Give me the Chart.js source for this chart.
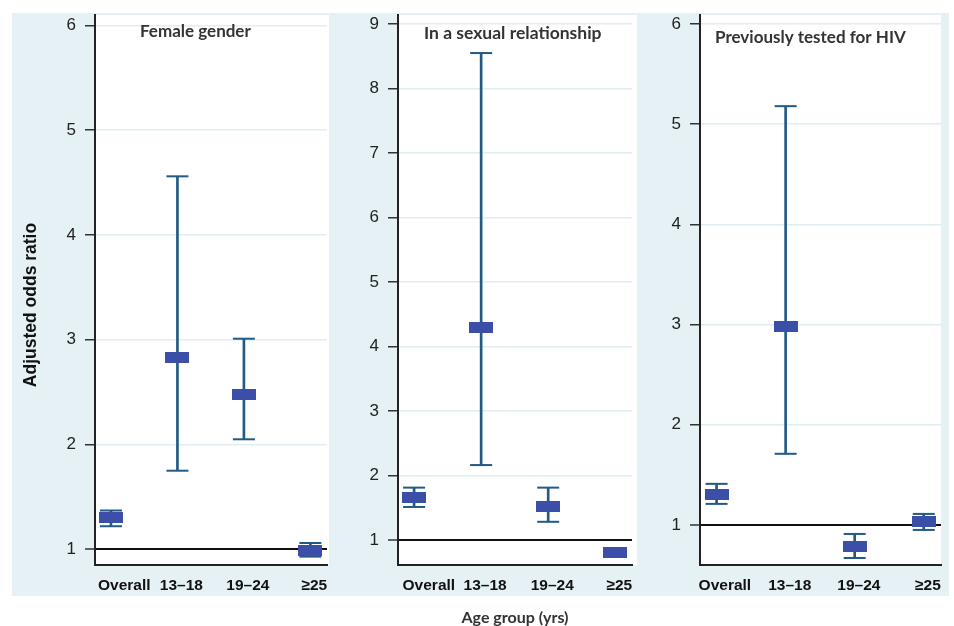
<!DOCTYPE html>
<html><head><meta charset="utf-8">
<script src="https://cdn.jsdelivr.net/npm/chart.js@4.4.0/dist/chart.umd.min.js"></script>
<style>
html,body{margin:0;padding:0;background:#fff;width:954px;height:626px;overflow:hidden;}
#bg{position:absolute;left:12px;top:13px;width:937px;height:583px;background:#e5f1f4;}
canvas{position:absolute;top:0;}
</style></head><body>
<div id="bg"></div>
<canvas id="c1" width="340" height="626" style="left:0px"></canvas>
<canvas id="c2" width="305" height="626" style="left:340px"></canvas>
<canvas id="c3" width="309" height="626" style="left:645px"></canvas>
<script>
// ---- data ----
const categories = ['Overall', '13–18', '19–24', '≥25'];
const panelTitles = ['Female gender', 'In a sexual relationship', 'Previously tested for HIV'];
const yAxisTitle = 'Adjusted odds ratio';
const xAxisTitle = 'Age group (yrs)';

const femaleOR = [1.30, 2.83, 2.48, 0.99];
const femaleLo = [1.22, 1.75, 2.05, 0.93];
const femaleHi = [1.37, 4.56, 3.01, 1.06];

const relationOR = [1.65, 4.29, 1.51, 0.80];
const relationLo = [1.51, 2.16, 1.28, 0.75];
const relationHi = [1.81, 8.55, 1.81, 0.85];

const testedOR = [1.30, 2.98, 0.78, 1.03];
const testedLo = [1.21, 1.71, 0.67, 0.95];
const testedHi = [1.41, 5.18, 0.91, 1.11];

// ---- styling / layout ----
const WHISKER = '#225a86';
const MARKER = '#3b4ea8';

function makeMarker() {
  const c = document.createElement('canvas');
  c.width = 24; c.height = 11;
  const g = c.getContext('2d');
  g.fillStyle = MARKER;
  g.fillRect(0, 0, 24, 11);
  return c;
}
const markerImg = makeMarker();

const decoPlugin = {
  id: 'deco',
  beforeDraw(chart, args, o) {
    const {ctx, chartArea: a} = chart;
    ctx.save();
    ctx.fillStyle = '#ffffff';
    ctx.fillRect(a.left, a.top, a.right - a.left + (o.extraRight || 0), a.bottom - a.top);
    ctx.restore();
  },
  afterDraw(chart, args, o) {
    const ctx = chart.ctx;
    ctx.save();
    ctx.font = 'bold ' + o.titleSize + 'px Lato';
    ctx.fillStyle = '#333333';
    ctx.textBaseline = 'alphabetic';
    ctx.textAlign = 'left';
    ctx.fillText(o.text, o.x, o.y);
    ctx.restore();
    if (o.yTitle) {
      ctx.save();
      ctx.translate(35.5, 305);
      ctx.rotate(-Math.PI / 2);
      ctx.font = 'bold 17.5px "Liberation Sans"';
      ctx.fillStyle = '#111111';
      ctx.textAlign = 'center';
      ctx.textBaseline = 'alphabetic';
      ctx.fillText(o.yTitle, 0, 0);
      ctx.restore();
    }
  }
};

function makePanel(id, est, lo, hi, cfg) {
  const caps = [];
  lo.forEach((l, i) => { caps.push({x: i, y: l}); caps.push({x: i, y: hi[i]}); });
  return new Chart(document.getElementById(id), {
    type: 'scatter',
    data: {
      datasets: [
        {type: 'scatter', data: est.map((v, i) => ({x: i, y: v})), pointStyle: markerImg, pointRadius: 12, order: 0},
        {type: 'scatter', data: caps, pointStyle: 'line', pointRadius: 11, borderColor: WHISKER, pointBorderColor: WHISKER, pointBorderWidth: 2, order: 1},
        {type: 'bar', data: lo.map((l, i) => ({x: i, y: [l, hi[i]]})), backgroundColor: WHISKER, borderWidth: 0, barThickness: 2, order: 2}
      ]
    },
    options: {
      responsive: false,
      devicePixelRatio: 1,
      animation: false,
      events: [],
      layout: {padding: {left: 0, right: cfg.padRight, top: 15, bottom: 0}},
      plugins: {
        legend: {display: false},
        tooltip: {enabled: false},
        deco: {text: cfg.title, x: cfg.titleX, y: cfg.titleY, titleSize: cfg.titleSize,
               extraRight: cfg.extraRight, yTitle: cfg.yTitle}
      },
      scales: {
        x: {
          type: 'linear', min: -0.24, max: 3.25, offset: false,
          afterBuildTicks(s) { s.ticks = categories.map((c, i) => ({value: i + (i === 0 ? cfg.firstShift : 0.06)})); },
          afterFit(s) { s.height = 61; },
          grid: {display: false, drawTicks: false, offset: false},
          border: {display: true, color: '#222', width: 2},
          ticks: {
            autoSkip: false, maxRotation: 0, padding: 11, color: '#111',
            font: {family: 'Liberation Sans', size: 15.5, weight: 'bold'},
            callback: (v, i) => categories[i]
          },
          title: {display: !!cfg.xTitle, text: cfg.xTitle || '', color: '#333',
            font: {family: 'Lato', size: 16, weight: 'bold', lineHeight: 1}, padding: {top: 0, bottom: 0}}
        },
        y: {
          type: 'linear', min: cfg.yMin, max: cfg.yMax,
          afterFit(s) { s.width = cfg.axisWidth; },
          ticks: {stepSize: 1, includeBounds: false, padding: 9, color: '#222',
            font: {family: 'Liberation Sans', size: 17, lineHeight: 0.6}},
          grid: {
            color: c => (c.tick && c.tick.value === 1) ? '#111111' : '#e0edf1',
            lineWidth: c => (c.tick && c.tick.value === 1) ? 2 : 1.5,
            tickColor: '#333', tickLength: 10, tickWidth: 1.5
          },
          border: {display: true, color: '#222', width: 2}
        }
      }
    },
    plugins: [decoPlugin]
  });
}

makePanel('c1', femaleOR, femaleLo, femaleHi, {
  title: panelTitles[0], titleX: 140, titleY: 37, titleSize: 17, yMin: 0.85, yMax: 6.1,
  axisWidth: 95, padRight: 5, extraRight: 2, firstShift: 0.2, yTitle: yAxisTitle
});
makePanel('c2', relationOR, relationLo, relationHi, {
  title: panelTitles[1], titleX: 84, titleY: 39, titleSize: 17.5, yMin: 0.61, yMax: 9.14,
  axisWidth: 58, padRight: 5, extraRight: 5, firstShift: 0.22, xTitle: xAxisTitle
});
makePanel('c3', testedOR, testedLo, testedHi, {
  title: panelTitles[2], titleX: 70, titleY: 43, titleSize: 17, yMin: 0.6, yMax: 6.09,
  axisWidth: 55, padRight: 13, extraRight: 0, firstShift: 0.12
});
</script>
</body></html>
